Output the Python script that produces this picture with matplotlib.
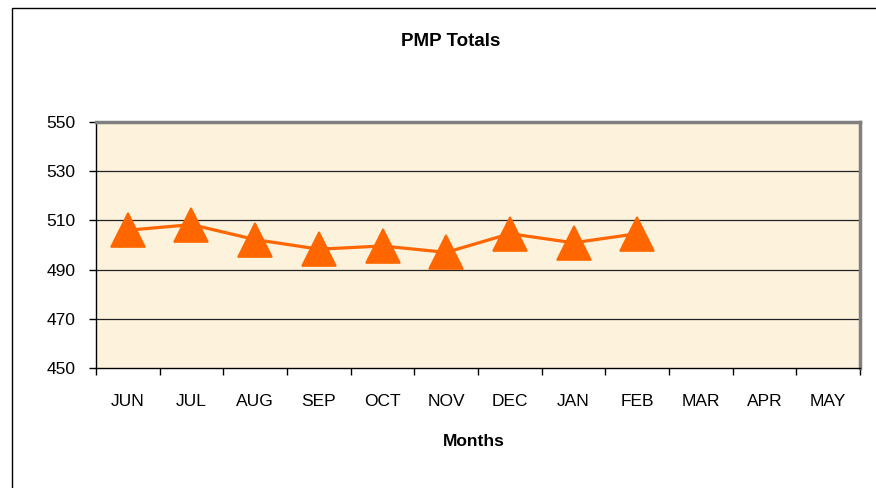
import matplotlib.pyplot as plt
from matplotlib.patches import Rectangle
from matplotlib.ticker import FixedLocator

plt.rcParams['font.family'] = ['Liberation Sans', 'DejaVu Sans']

# data
months = ["JUN", "JUL", "AUG", "SEP", "OCT", "NOV", "DEC", "JAN", "FEB", "MAR", "APR", "MAY"]
totals = [506.0, 508.3, 502.2, 498.3, 499.6, 497.0, 504.6, 500.9, 504.6]
y_ticks = [450, 470, 490, 510, 530, 550]

fig = plt.figure(figsize=(8.76, 4.88), dpi=100)
fig.patch.set_facecolor("white")

# outer chart frame (runs off the right and bottom edges)
fig.patches.append(Rectangle((12 / 876, -0.2), 1.2, 1.2 - 8 / 488, transform=fig.transFigure,
                             fill=False, edgecolor="black", linewidth=1.0))

ax = fig.add_axes([96 / 876, 120 / 488, 764 / 876, 246 / 488])
ax.set_facecolor("#FDF3DD")

x = list(range(len(totals)))
ax.plot(x, totals, color="#FF6600", linewidth=2.3, marker="^", markersize=24,
        markeredgewidth=1.2, markeredgecolor="#FF6600", zorder=3)

ax.set_xlim(-0.5, len(months) - 0.5)
ax.set_ylim(450, 550)

# gridlines
for v in y_ticks[1:-1]:
    ax.axhline(v, color="#222222", linewidth=0.9, zorder=1)

# spines
ax.spines["left"].set_color("black")
ax.spines["bottom"].set_color("black")
ax.spines["left"].set_linewidth(1.0)
ax.spines["bottom"].set_linewidth(1.0)
ax.spines["top"].set_color("#808080")
ax.spines["right"].set_color("#808080")
ax.spines["top"].set_linewidth(2.5)
ax.spines["right"].set_linewidth(2.5)

ax.set_yticks(y_ticks)
ax.tick_params(axis="y", direction="out", length=5, width=1, pad=10, labelsize=12.5)

# x ticks at category boundaries, labels centred in between
ax.xaxis.set_major_locator(FixedLocator([i - 0.5 for i in range(len(months) + 1)]))
ax.xaxis.set_minor_locator(FixedLocator(list(range(len(months)))))
ax.set_xticklabels([], minor=False)
ax.set_xticklabels(months, minor=True)
ax.tick_params(axis="x", which="major", direction="out", length=5, width=1)
ax.tick_params(axis="x", which="minor", length=0, pad=18.5, labelsize=12.5)

fig.text(450.5 / 876, 1 - 42 / 488, "PMP Totals", ha="center", va="center",
         fontsize=13.5, fontweight="bold")
fig.text(474 / 876, 1 - 441 / 488, "Months", ha="center", va="center",
         fontsize=12.5, fontweight="bold")

fig.savefig("out.png", dpi=100)
